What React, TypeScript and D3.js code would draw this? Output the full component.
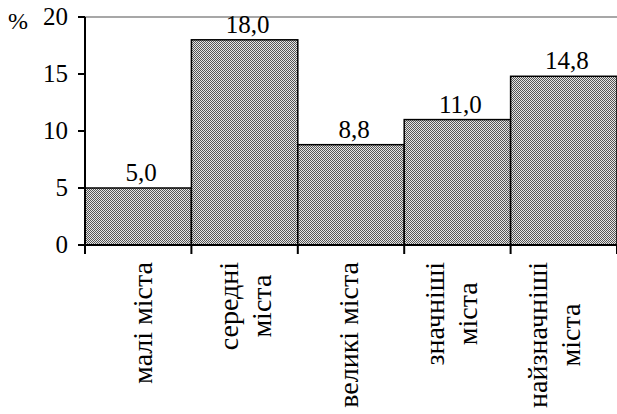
import React, { useEffect, useRef } from "react";
import * as d3 from "d3";

const categories: string[][] = [
  ["малі міста"],
  ["середні", "міста"],
  ["великі міста"],
  ["значніші", "міста"],
  ["найзначніші", "міста"],
];
const values: number[] = [5.0, 18.0, 8.8, 11.0, 14.8];
const yTicks: number[] = [0, 5, 10, 15, 20];
const yUnit = "%";

const W = 617;
const H = 414;
const FONT = "Liberation Serif";

export default function App() {
  const ref = useRef<SVGSVGElement | null>(null);

  useEffect(() => {
    const svg = d3.select(ref.current);
    svg.selectAll("*").remove();

    const x = d3
      .scaleBand<number>()
      .domain(values.map((_, i) => i))
      .range([85, 617])
      .padding(0);
    // category labels sit on a slightly narrower band than the bars
    const xLab = d3
      .scaleBand<number>()
      .domain(values.map((_, i) => i))
      .range([92, 607])
      .padding(0);
    const y = d3.scaleLinear().domain([0, 20]).range([245, 17]);

    const defs = svg.append("defs");
    const pat = defs
      .append("pattern")
      .attr("id", "hatch")
      .attr("patternUnits", "userSpaceOnUse")
      .attr("width", 2)
      .attr("height", 2);
    pat.append("rect").attr("width", 2).attr("height", 2).attr("fill", "#e6e6e6");
    pat.append("rect").attr("x", 0).attr("y", 0).attr("width", 1).attr("height", 1).attr("fill", "#555");
    pat.append("rect").attr("x", 1).attr("y", 1).attr("width", 1).attr("height", 1).attr("fill", "#555");

    svg
      .append("line")
      .attr("x1", 85)
      .attr("x2", W)
      .attr("y1", y(20))
      .attr("y2", y(20))
      .attr("stroke", "#8a8a8a")
      .attr("stroke-width", 1.5);

    svg
      .selectAll("rect.bar")
      .data(values)
      .enter()
      .append("rect")
      .attr("class", "bar")
      .attr("x", (_, i) => x(i)!)
      .attr("width", x.bandwidth())
      .attr("y", (d) => y(d))
      .attr("height", (d) => y(0) - y(d))
      .attr("fill", "url(#hatch)")
      .attr("stroke", "#000")
      .attr("stroke-width", 1.5);

    svg
      .selectAll("text.val")
      .data(values)
      .enter()
      .append("text")
      .attr("class", "val")
      .attr("x", (_, i) => x(i)! + x.bandwidth() / 2 + 3)
      .attr("y", (d) => y(d) - 7)
      .style("font-family", FONT)
      .attr("font-size", 25)
      .attr("text-anchor", "middle")
      .text((d) => d.toFixed(1).replace(".", ","));

    svg
      .append("line")
      .attr("x1", 85)
      .attr("x2", 85)
      .attr("y1", y(20))
      .attr("y2", y(0))
      .attr("stroke", "#000")
      .attr("stroke-width", 2);
    svg
      .selectAll("line.ytick")
      .data(yTicks)
      .enter()
      .append("line")
      .attr("x1", 78)
      .attr("x2", 85)
      .attr("y1", (d) => y(d))
      .attr("y2", (d) => y(d))
      .attr("stroke", "#000")
      .attr("stroke-width", 2);
    svg
      .selectAll("text.ytl")
      .data(yTicks)
      .enter()
      .append("text")
      .attr("x", 68)
      .attr("y", (d) => y(d) + 8)
      .attr("text-anchor", "end")
      .style("font-family", FONT)
      .attr("font-size", 25)
      .text((d) => String(d));
    svg
      .append("text")
      .attr("x", 8)
      .attr("y", 29)
      .style("font-family", FONT)
      .attr("font-size", 24)
      .text(yUnit);

    svg
      .append("line")
      .attr("x1", 78)
      .attr("x2", W)
      .attr("y1", y(0))
      .attr("y2", y(0))
      .attr("stroke", "#000")
      .attr("stroke-width", 2);
    const bounds = values.map((_, i) => x(i)!).concat([617]);
    svg
      .selectAll("line.xtick")
      .data(bounds)
      .enter()
      .append("line")
      .attr("x1", (d) => d)
      .attr("x2", (d) => d)
      .attr("y1", y(0))
      .attr("y2", y(0) + 9)
      .attr("stroke", "#000")
      .attr("stroke-width", 2);

    const topY = 262;
    const lineGap = 33;
    categories.forEach((lines, i) => {
      const cx = xLab(i)! + xLab.bandwidth() / 2;
      const texts = lines.map((ln, j) => {
        const bx = cx + (j - (lines.length - 1) / 2) * lineGap + 8;
        return svg
          .append("text")
          .style("font-family", FONT)
          .attr("font-size", 28)
          .attr("text-anchor", "middle")
          .attr("data-bx", bx)
          .text(ln);
      });
      const lens = texts.map((t) => (t.node() as SVGTextElement).getComputedTextLength());
      const maxLen = Math.max(...lens);
      const centerY = topY + maxLen / 2;
      texts.forEach((t) => {
        const bx = +t.attr("data-bx");
        t.attr("transform", `translate(${bx},${centerY}) rotate(-90)`);
      });
    });
  }, []);

  return (
    <svg
      ref={ref}
      width={W}
      height={H}
      style={{ position: "absolute", left: 0, top: 0, background: "#fff" }}
    />
  );
}
